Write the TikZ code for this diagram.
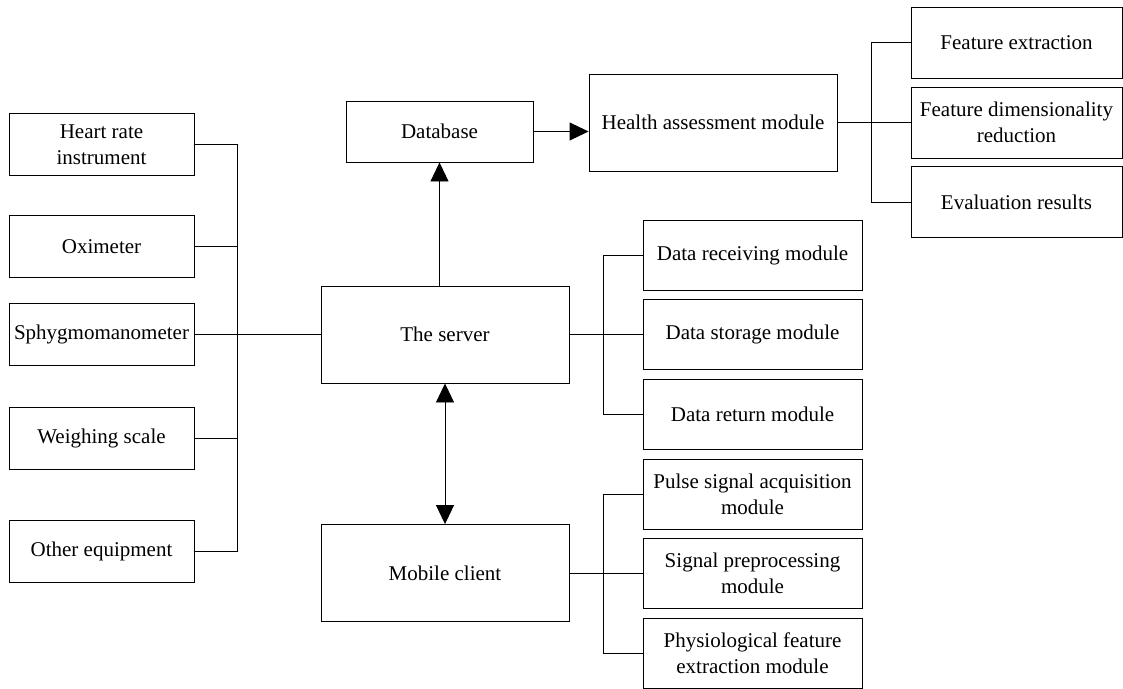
\documentclass[tikz,border=0pt]{standalone}
\usepackage{fontspec}
\setmainfont{Liberation Serif}
\usetikzlibrary{arrows.meta}

\begin{document}
\begin{tikzpicture}[x=1pt,y=-1pt,line width=0.9pt,
    box/.style={draw,align=center,inner sep=0pt,font=\fontsize{21}{26}\selectfont},
    devbox/.style={box,minimum width=185,minimum height=62},
    mainbox/.style={box,minimum width=248,minimum height=97},
    modbox/.style={box,minimum width=219,minimum height=70},
    featbox/.style={box,minimum width=211,minimum height=71},
    tip/.style={-{Triangle[length=19pt,width=18pt]}},
    tips/.style={{Triangle[length=19pt,width=18pt]}-{Triangle[length=19pt,width=18pt]}}]
    \useasboundingbox (0,0) rectangle (1123,688);

    % Devices
    \node[devbox] (hr) at (101.5,144.5) {Heart rate\\instrument};
    \node[devbox] (ox) at (101.5,246.5) {Oximeter};
    \node[devbox] (sp) at (101.5,334.5) {Sphygmomanometer};
    \node[devbox] (ws) at (101.5,438.5) {Weighing scale};
    \node[devbox] (oe) at (101.5,551) {Other equipment};

    % Main blocks
    \node[mainbox] (server) at (445,334.5) {The server};
    \node[mainbox] (mobile) at (445,573) {Mobile client};
    \node[box,minimum width=187,minimum height=61] (db) at (439.5,131.5) {Database};
    \node[mainbox] (health) at (713,122.5) {Health assessment module};

    % Health assessment parts
    \node[featbox] (fe) at (1016.5,42.5) {Feature extraction};
    \node[featbox] (fd) at (1016.5,122.5) {Feature dimensionality\\reduction};
    \node[featbox] (er) at (1016.5,202) {Evaluation results};

    % Server modules
    \node[modbox] (drm) at (752.5,255) {Data receiving module};
    \node[modbox] (dsm) at (752.5,334.5) {Data storage module};
    \node[modbox] (dtm) at (752.5,414) {Data return module};

    % Client modules
    \node[modbox] (psa) at (752.5,494) {Pulse signal acquisition\\module};
    \node[modbox] (spm) at (752.5,573) {Signal preprocessing\\module};
    \node[modbox] (pfe) at (752.5,653) {Physiological feature\\extraction module};

    % Bus lines
    \coordinate (lbus) at (237,0);
    \coordinate (sbus) at (603,0);
    \coordinate (hbus) at (871,0);

    \draw (hr.east) -- (hr.east -| lbus) -- (oe.east -| lbus) -- (oe.east);
    \foreach \n in {ox,ws} \draw (\n.east) -- (\n.east -| lbus);
    \draw (sp.east) -- (server.west);

    \draw (drm.west) -- (drm.west -| sbus) -- (dtm.west -| sbus) -- (dtm.west);
    \draw (server.east) -- (dsm.west);

    \draw (psa.west) -- (psa.west -| sbus) -- (pfe.west -| sbus) -- (pfe.west);
    \draw (mobile.east) -- (spm.west);

    \draw (fe.west) -- (fe.west -| hbus) -- (er.west -| hbus) -- (er.west);
    \draw (health.east) -- (fd.west);

    % Arrows
    \draw[tip] (db.south |- server.north) -- (db.south);
    \draw[tip] (db.east) -- (db.east -| health.west);
    \draw[tips] (server.south) -- (mobile.north);
\end{tikzpicture}
\end{document}
